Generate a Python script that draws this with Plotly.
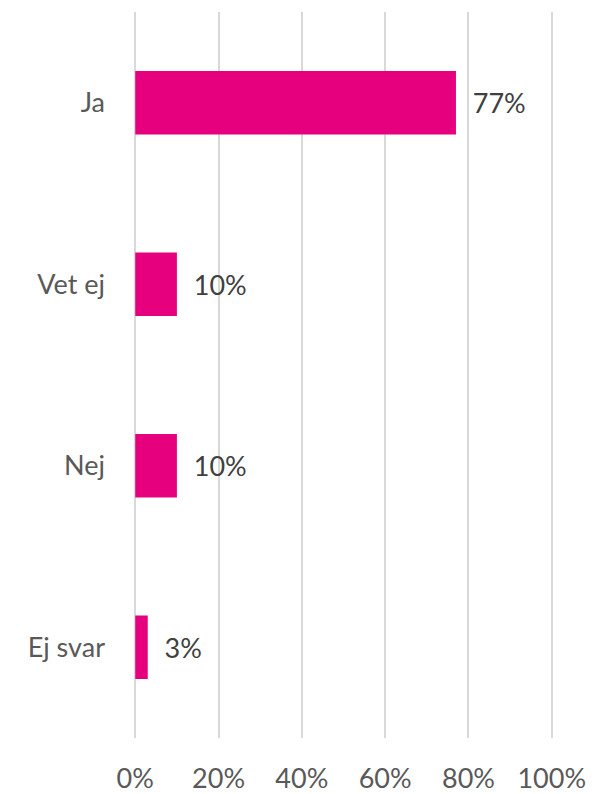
import plotly.graph_objects as go

categories = ["Ja", "Vet ej", "Nej", "Ej svar"]
values = [77, 10, 10, 3]
x_ticks = [0, 20, 40, 60, 80, 100]
x_tick_labels = ["0%", "20%", "40%", "60%", "80%", "100%"]

FONT = "Lato, Open Sans, sans-serif"

fig = go.Figure(go.Bar(
    y=categories,
    x=values,
    orientation="h",
    marker=dict(color="#E6007E", line=dict(width=0)),
    text=[f"  {v}%" for v in values],
    textposition="outside",
    textfont=dict(family=FONT, size=27, color="#404040"),
    cliponaxis=False,
))

# the page body adds an 8px offset, so margins are shifted by that much
fig.update_layout(
    width=595, height=794,
    margin=dict(l=126, r=50, t=4, b=64),
    paper_bgcolor="white", plot_bgcolor="white",
    bargap=0.65,
    showlegend=False,
    font=dict(family=FONT, size=27, color="#595959"),
)
fig.update_xaxes(
    range=[-0.3, 100.3], tickvals=x_ticks, ticktext=x_tick_labels,
    showgrid=True, gridcolor="#D9D9D9", gridwidth=1.5,
    zeroline=False, showline=False, automargin=False,
    ticklabelstandoff=22,
    tickfont=dict(family=FONT, size=27, color="#595959"),
)
fig.update_yaxes(
    categoryorder="array", categoryarray=categories[::-1],
    showgrid=False, zeroline=False, showline=False, automargin=False,
    ticklabelstandoff=28,
    tickfont=dict(family=FONT, size=27, color="#595959"),
)

fig.write_html("out.html")
